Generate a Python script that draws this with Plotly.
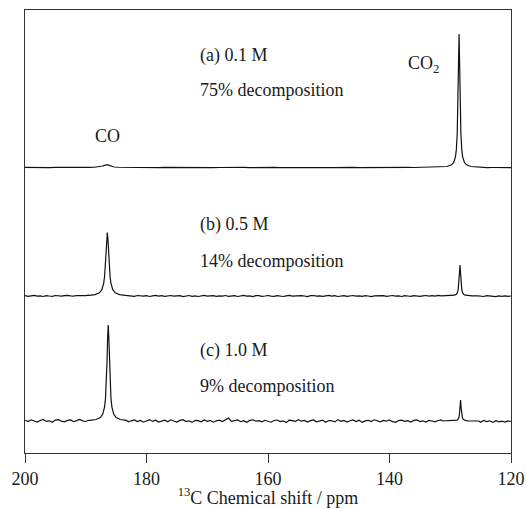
import numpy as np
import plotly.graph_objects as go

# ---------------- data ----------------
tick_vals = [200, 180, 160, 140, 120]
tick_text = ["200", "180", "160", "140", "120"]

# stacking offsets of the three spectra (intensity units)
offsets = {"a": 285.5, "b": 157.0, "c": 32.0}

# baseline noise (a: 1 ppm steps, b/c: 0.5 ppm steps, from 200 to 120 ppm)
a_noise = [0.1,-0.1,0.2,0.0,-0.2,0.1,0.0,0.2,-0.1,0.1,
           0.2,0.1,0.3,0.2,0.3,0.2,0.1,0.2,0.0,-0.1,
           0.1,0.0,-0.2,0.1,0.0,0.2,-0.1,0.0,0.3,-0.2,
           0.1,-0.1,0.0,0.2,-0.1,0.0,0.1,-0.2,0.0,0.1,
           0.0,0.2,-0.1,0.0,0.1,-0.1,0.2,0.0,-0.1,0.1,
           0.0,-0.2,0.1,0.0,0.2,-0.1,0.0,0.1,-0.1,0.0,
           0.2,0.0,-0.1,0.1,0.0,0.2,0.1,0.0,0.3,0.2,
           0.4,0.3,0.2,0.1,0.0,0.1,-0.1,0.0,0.1,0.0,
           -0.1]
b_noise = [0.3,-0.4,0.2,0.6,-0.2,0.1,-0.5,0.4,0.0,-0.3,
           0.5,0.1,-0.2,0.4,0.7,0.2,-0.1,0.5,0.3,0.6,
           0.4,0.8,0.5,0.9,0.6,1.0,0.7,0.8,0.9,0.6,
           0.5,0.2,0.7,-0.1,0.4,0.3,-0.3,0.5,0.1,-0.2,
           0.4,-0.5,0.2,0.6,-0.1,0.3,-0.4,0.1,0.5,-0.2,
           0.0,0.4,-0.6,0.2,0.5,-0.3,0.1,-0.5,0.3,0.6,
           -0.2,0.1,0.4,-0.4,0.2,-0.1,0.5,-0.3,0.0,0.3,
           -0.5,0.2,0.6,-0.2,0.1,-0.6,0.3,0.4,-0.3,0.0,
           0.5,-0.1,-0.4,0.3,0.1,-0.5,0.2,0.6,-0.2,0.1,
           -0.3,0.4,0.0,-0.6,0.3,0.5,-0.2,0.1,-0.4,0.2,
           0.6,-0.1,0.3,-0.5,0.0,0.4,-0.3,0.2,0.5,-0.2,
           0.1,-0.4,0.3,0.0,-0.6,0.2,0.4,-0.1,0.3,-0.3,
           0.2,0.5,-0.2,0.1,-0.5,0.3,0.0,-0.3,0.4,0.1,
           -0.4,0.2,0.5,-0.1,0.3,-0.2,0.6,0.1,0.4,0.7,
           0.5,0.9,0.6,0.8,0.7,0.4,0.0,-0.3,0.2,-0.4,
           0.1,-0.5,0.3,-0.2,0.0,-0.6,0.2,-0.3,0.1,-0.4,
           0.0]
c_noise = [0.8,-0.6,1.2,0.3,-1.1,0.5,1.5,-0.4,0.2,-1.3,
           0.9,1.4,-0.2,-0.9,0.6,1.1,-0.7,0.4,1.6,0.1,
           -0.5,0.7,1.3,0.2,1.8,0.9,1.5,2.0,1.2,1.6,
           0.4,1.0,-0.3,0.6,-0.8,0.2,1.1,-0.6,0.5,-1.2,
           0.3,1.4,-0.4,0.8,-1.0,0.1,0.9,-0.7,1.2,0.0,
           -1.1,0.6,1.3,-0.5,0.2,-1.4,0.7,0.4,-0.8,1.0,
           -0.3,0.5,-1.2,0.2,0.8,-0.6,1.0,3.0,-0.4,0.6,
           1.1,-0.7,0.3,-1.3,0.6,1.2,-0.2,0.4,-0.9,0.7,
           0.0,-1.2,0.5,1.0,-0.6,0.2,-1.5,0.8,0.3,-0.4,
           1.3,-0.2,0.6,-1.0,0.4,1.1,-0.8,0.1,0.9,-1.3,
           0.5,0.2,-0.9,1.4,-0.3,0.6,-1.1,0.3,1.0,-0.5,
           0.8,-1.4,0.1,0.7,-0.6,1.2,0.2,-0.9,0.5,-0.2,
           1.0,-0.7,-1.3,0.4,0.9,-0.4,0.3,-1.0,0.6,1.2,
           -0.5,0.2,-1.1,0.7,0.0,-0.8,0.5,1.1,-0.3,0.4,
           0.6,1.5,0.8,1.3,0.9,1.0,-0.4,0.7,-0.9,0.3,
           -1.2,0.5,-0.6,0.2,-1.4,0.3,-0.8,-0.2,-1.0,0.1,
           -0.5]

# sample positions (ppm offset from line centre) for the peak profiles
peak_dx = [-3, -2, -1.3, -0.9, -0.6, -0.45, -0.3, -0.2, -0.1, 0,
           0.1, 0.2, 0.3, 0.45, 0.6, 0.9, 1.3, 2, 3]

# peaks: (centre ppm, heights at peak_dx)
peaks = {
    "a": [(186.6,  [0.1,0.25,0.5,0.9,1.5,1.9,2.4,2.6,2.9,3.0,2.9,2.6,2.4,1.9,1.5,0.9,0.5,0.25,0.1]),
          (128.55, [0.45,1.0,2.4,4.9,10.4,17.6,33.9,57.8,100.6,133.5,100.6,57.8,33.9,17.6,10.4,4.9,2.4,1.0,0.45])],
    "b": [(186.45, [0.6,1.4,3.2,6.3,12.7,19.5,32,44,57,63.5,57,44,32,19.5,12.7,6.3,3.2,1.4,0.6]),
          (128.4,  [0.1,0.2,0.4,0.8,1.8,3.1,6.2,11.2,21.5,31,21.5,11.2,6.2,3.1,1.8,0.8,0.4,0.2,0.1])],
    "c": [(186.3,  [0.7,1.5,3.4,6.9,14.2,22.6,39,58.5,83,96,83,58.5,39,22.6,14.2,6.9,3.4,1.5,0.7]),
          (128.3,  [0.0,0.1,0.2,0.4,0.9,1.5,3.1,5.9,12.8,21,12.8,5.9,3.1,1.5,0.9,0.4,0.2,0.1,0.0])],
}
noises = {"a": a_noise, "b": b_noise, "c": c_noise}

# annotation texts
labels = [
    ("(a) 0.1 M", 171.5, 398),
    ("75% decomposition", 171.5, 363),
    ("(b) 0.5 M", 171.5, 229),
    ("14% decomposition", 171.5, 192),
    ("(c) 1.0 M", 171.5, 103),
    ("9% decomposition", 171.5, 67),
]
peak_labels = [("CO", 186.5, 317, "center"), ("CO<sub>2</sub>", 137.3, 389, "left")]

# ---------------- build ----------------
FONT = "Liberation Serif"
fig = go.Figure()
for key in ["a", "b", "c"]:
    noise = noises[key]
    grid = np.linspace(200, 120, len(noise))
    pts = []
    for g, v in zip(grid, noise):
        if all(abs(g - c) > 3 for c, _ in peaks[key]):
            pts.append((g, v))
    for c, hs in peaks[key]:
        for dx, h in zip(peak_dx, hs):
            pts.append((c + dx, h))
    pts.sort(key=lambda p: -p[0])
    xs = [p[0] for p in pts]
    ys = [p[1] + offsets[key] for p in pts]
    fig.add_trace(go.Scatter(x=xs, y=ys, mode="lines",
                             line=dict(color="#111111", width=1.2),
                             showlegend=False, hoverinfo="skip"))

for text, x, y in labels:
    fig.add_annotation(x=x, y=y, text=text, showarrow=False, xanchor="left",
                       yanchor="middle", font=dict(family=FONT, size=18, color="#1a1a1a"))
for text, x, y, anc in peak_labels:
    fig.add_annotation(x=x, y=y, text=text, showarrow=False, xanchor=anc,
                       yanchor="middle", font=dict(family=FONT, size=18, color="#1a1a1a"))

fig.update_layout(
    width=526, height=508,
    margin=dict(l=25, r=15, t=10, b=55, autoexpand=False),
    paper_bgcolor="white", plot_bgcolor="white",
    font=dict(family=FONT, size=18, color="#1a1a1a"),
)
fig.update_xaxes(range=[200, 120], tickvals=tick_vals, ticktext=tick_text,
                 ticks="outside", ticklen=9, tickwidth=1, tickcolor="#333",
                 showline=True, mirror=True, linecolor="#333", linewidth=1,
                 showgrid=False, zeroline=False, automargin=False,
                 tickfont=dict(family=FONT, size=18),
                 title=dict(text="<sup>13</sup>C Chemical shift / ppm",
                            font=dict(family=FONT, size=18), standoff=0))
fig.update_yaxes(range=[0, 443], showticklabels=False, ticks="",
                 showline=True, mirror=True, linecolor="#333", linewidth=1,
                 showgrid=False, zeroline=False, automargin=False)

fig.write_html("out.html")
